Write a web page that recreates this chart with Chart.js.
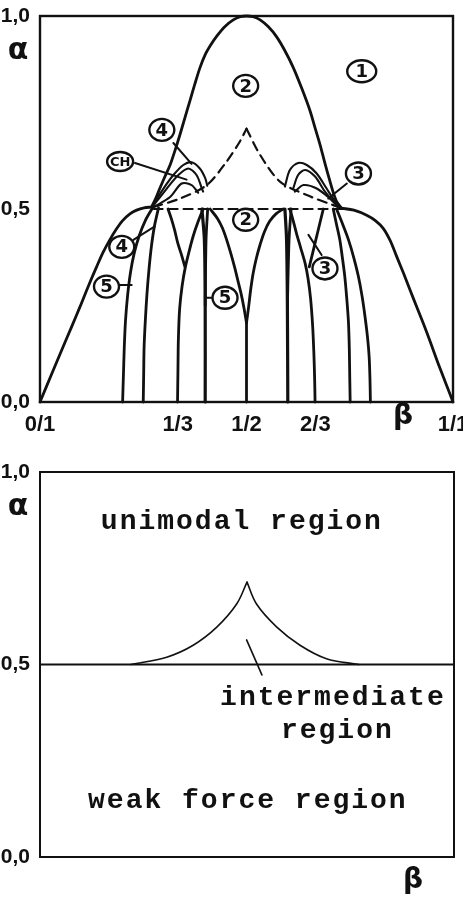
<!DOCTYPE html>
<html>
<head>
<meta charset="utf-8">
<script src="https://cdn.jsdelivr.net/npm/chart.js@4.4.1/dist/chart.umd.min.js"></script>
<style>
  html, body { margin: 0; padding: 0; background: #fff; }
  canvas { display: block; }
</style>
</head>
<body>
<canvas id="diagrama" width="463" height="450"></canvas>
<canvas id="regioes" width="463" height="451"></canvas>
<script>
// --- eixos ---
const betaTicks = [0, 1/3, 1/2, 2/3, 1];
const betaTickLabels = ['0/1', '1/3', '1/2', '2/3', '1/1'];
const alphaTicks = [0, 0.5, 1];
const alphaTickLabels = ['0,0', '0,5', '1,0'];

// --- fronteira externa (pe esquerdo, sino, pe direito) --- pares [beta, alpha]
const leftFoot = [[0,0],[0.028,0.072],[0.056,0.143],[0.077,0.196],[0.097,0.247],[0.117,0.3],[0.137,0.35],[0.153,0.388],
                  [0.169,0.42],[0.185,0.448],[0.2,0.47],[0.217,0.487],[0.234,0.497],[0.252,0.503],[0.27,0.505]];
const bell = [[0.27,0.505],[0.28,0.527],[0.29,0.553],[0.302,0.583],[0.315,0.614],[0.327,0.652],[0.339,0.693],[0.351,0.737],
              [0.363,0.78],[0.375,0.824],[0.387,0.865],[0.4,0.9],[0.414,0.926],[0.428,0.948],[0.448,0.973],[0.468,0.99],
              [0.485,0.998],[0.5,1],[0.516,0.998],[0.533,0.99],[0.553,0.972],[0.573,0.946],[0.593,0.91],[0.613,0.867],
              [0.634,0.812],[0.654,0.754],[0.666,0.71],[0.678,0.667],[0.69,0.618],[0.702,0.572],[0.71,0.543],[0.718,0.52],[0.73,0.502]];
const rightFoot = [[0.73,0.502],[0.76,0.497],[0.791,0.484],[0.812,0.47],[0.831,0.45],[0.848,0.418],[0.864,0.376],[0.88,0.334],
                   [0.896,0.29],[0.912,0.247],[0.928,0.204],[0.946,0.153],[0.964,0.1],[0.982,0.05],[1,0]];

// --- linguas racionais ---
const tongue15 = [[0.2,0],[0.202,0.07],[0.204,0.14],[0.207,0.21],[0.212,0.275],[0.219,0.335],[0.228,0.385],[0.24,0.43],[0.255,0.47],[0.272,0.502]];
const tongue14 = [[0.25,0],[0.251,0.07],[0.252,0.14],[0.255,0.21],[0.259,0.28],[0.264,0.345],[0.27,0.405],[0.277,0.455],[0.287,0.503]];
const tongue13 = [[0.333,0],[0.334,0.08],[0.335,0.16],[0.338,0.24],[0.344,0.3],[0.352,0.35],[0.361,0.39],[0.371,0.43],[0.382,0.465],[0.395,0.5]];
const tongue13Arc = [[0.31,0.5],[0.318,0.475],[0.326,0.445],[0.334,0.41],[0.343,0.38],[0.351,0.35]];
const tongue25a = [[0.4,0],[0.4,0.25],[0.398,0.42],[0.392,0.5]];
const tongue25b = [[0.4,0.25],[0.402,0.42],[0.406,0.5]];
const tongue12Stem = [[0.5,0],[0.5,0.205]];
const tongue12Left = [[0.412,0.5],[0.43,0.475],[0.442,0.45],[0.452,0.42],[0.462,0.385],[0.471,0.35],[0.479,0.315],[0.487,0.28],[0.494,0.243],[0.5,0.205]];
const tongue12Right = [[0.5,0.205],[0.505,0.245],[0.51,0.29],[0.516,0.333],[0.524,0.373],[0.533,0.408],[0.543,0.44],[0.556,0.468],[0.572,0.488],[0.589,0.5]];
const tongue35a = [[0.6,0],[0.599,0.25],[0.597,0.42],[0.593,0.5]];
const tongue35b = [[0.599,0.25],[0.603,0.42],[0.608,0.5]];
const tongue23 = [[0.605,0.5],[0.613,0.47],[0.621,0.437],[0.631,0.4],[0.642,0.359],[0.649,0.32],[0.655,0.27],[0.66,0.2],[0.663,0.13],[0.665,0.06],[0.666,0]];
const tongue23Arc = [[0.686,0.5],[0.678,0.465],[0.669,0.425],[0.66,0.385],[0.652,0.35]];
const tongue34 = [[0.71,0.5],[0.718,0.46],[0.726,0.42],[0.732,0.375],[0.738,0.325],[0.743,0.265],[0.747,0.204],[0.749,0.135],[0.75,0.065],[0.751,0]];
const tongue45 = [[0.718,0.5],[0.733,0.46],[0.747,0.42],[0.76,0.373],[0.771,0.325],[0.78,0.273],[0.787,0.221],[0.793,0.168],[0.797,0.117],[0.799,0.058],[0.8,0]];

// --- capuzes acima da linha tracejada ---
const capOuterL = [[0.27,0.505],[0.299,0.553],[0.323,0.588],[0.347,0.614],[0.367,0.621],[0.387,0.605],[0.4,0.58],[0.405,0.56]];
const capMidL = [[0.272,0.505],[0.307,0.553],[0.335,0.588],[0.359,0.605],[0.379,0.588],[0.392,0.553],[0.395,0.545]];
const capInnerL = [[0.275,0.505],[0.315,0.531],[0.343,0.566],[0.367,0.562],[0.383,0.542]];
const capOuterR = [[0.593,0.558],[0.605,0.601],[0.625,0.619],[0.646,0.614],[0.67,0.592],[0.694,0.553],[0.718,0.514],[0.734,0.5]];
const capMidR = [[0.613,0.553],[0.625,0.588],[0.642,0.601],[0.666,0.584],[0.69,0.545],[0.718,0.51],[0.73,0.5]];
const capInnerR = [[0.617,0.545],[0.638,0.562],[0.67,0.553],[0.702,0.527],[0.726,0.503]];

// --- tracejado ---
const dashLeft = [[0.275,0.505],[0.339,0.527],[0.404,0.562],[0.452,0.623],[0.484,0.675],[0.5,0.708]];
const dashRight = [[0.5,0.708],[0.533,0.64],[0.581,0.571],[0.646,0.536],[0.71,0.51],[0.735,0.5]];
const dashFlat = [[0.275,0.5],[0.735,0.5]];

// --- setas dos rotulos ---
const leaders = [
  [[0.323,0.671],[0.367,0.617]],
  [[0.23,0.619],[0.355,0.576]],
  [[0.743,0.566],[0.698,0.527]],
  [[0.226,0.42],[0.278,0.455]],
  [[0.682,0.381],[0.65,0.433]],
  [[0.19,0.303],[0.222,0.303]],
  [[0.416,0.27],[0.4,0.27]]
];

// --- rotulos circulados ---
const markText = ['1', '2', '4', 'CH', '3', '2', '4', '3', '5', '5'];
const markBeta = [0.779, 0.498, 0.295, 0.194, 0.771, 0.498, 0.198, 0.69, 0.161, 0.448];
const markAlpha = [0.857, 0.819, 0.705, 0.623, 0.592, 0.472, 0.402, 0.346, 0.299, 0.27];

// --- grafico de regioes ---
const splitLine = [[0,0.5],[1,0.5]];
const cuspLeft = [[0.22,0.5],[0.306,0.519],[0.37,0.55],[0.427,0.597],[0.475,0.657],[0.5,0.714]];
const cuspRight = [[0.5,0.714],[0.523,0.657],[0.572,0.597],[0.628,0.55],[0.692,0.515],[0.77,0.5]];
const pointerLine = [[0.499,0.564],[0.536,0.473]];
const regionText = ['unimodal region', 'intermediate', 'region', 'weak force region'];
const regionBeta = [0.147, 0.435, 0.582, 0.116];
const regionAlpha = [0.852, 0.395, 0.309, 0.127];

const INK = '#111';
const TICK_FONT = "'Liberation Sans', Arimo, sans-serif";

function curva(pts, extra) {
  return Object.assign({
    data: pts.map(p => ({ x: p[0], y: p[1] })),
    borderColor: INK,
    borderWidth: 2.8,
    pointRadius: 0,
    tension: 0.3,
    fill: false,
    clip: false,
    borderCapStyle: 'round',
    borderJoinStyle: 'round'
  }, extra || {});
}

function escalas(comRotulosBeta, alturaX) {
  return {
    x: {
      type: 'linear', min: 0, max: 1,
      grid: { display: false }, border: { display: false },
      afterBuildTicks: ax => { ax.ticks = betaTicks.map(v => ({ value: v })); },
      afterFit: ax => { ax.height = alturaX; ax.paddingLeft = 0; ax.paddingRight = 0; },
      ticks: {
        display: comRotulosBeta, autoSkip: false, maxRotation: 0, minRotation: 0, padding: 2,
        color: INK, font: { family: TICK_FONT, size: 22, weight: 'bold' },
        callback: (v, i) => betaTickLabels[i]
      }
    },
    y: {
      type: 'linear', min: 0, max: 1,
      grid: { display: false }, border: { display: false },
      afterBuildTicks: ax => { ax.ticks = alphaTicks.map(v => ({ value: v })); },
      afterFit: ax => { ax.width = 40; ax.paddingTop = 0; ax.paddingBottom = 0; },
      ticks: {
        autoSkip: false, padding: 2,
        color: INK, font: { family: TICK_FONT, size: 21, weight: 'bold' },
        callback: (v, i) => alphaTickLabels[i]
      }
    }
  };
}

// moldura + letras dos eixos
function moldura(espessura, betaDx, betaDy) {
  return {
    id: 'moldura',
    afterDraw(chart) {
      const { ctx, chartArea: a } = chart;
      ctx.save();
      ctx.strokeStyle = INK;
      ctx.lineWidth = espessura;
      ctx.strokeRect(a.left, a.top, a.right - a.left, a.bottom - a.top);
      ctx.fillStyle = INK;
      ctx.textAlign = 'center';
      ctx.textBaseline = 'middle';
      ctx.font = "bold 30px 'DejaVu Sans', sans-serif";
      ctx.fillText('α', a.left - 22, a.top + 35);
      ctx.font = "bold 28px 'DejaVu Sans', sans-serif";
      ctx.fillText('β', a.right + betaDx, a.bottom + betaDy);
      ctx.restore();
    }
  };
}

const rotulosCirculados = {
  id: 'rotulosCirculados',
  afterDatasetsDraw(chart) {
    const { ctx, scales } = chart;
    ctx.save();
    ctx.textAlign = 'center';
    ctx.textBaseline = 'middle';
    markText.forEach((t, i) => {
      const px = scales.x.getPixelForValue(markBeta[i]);
      const py = scales.y.getPixelForValue(markAlpha[i]);
      const largo = t.length > 1;
      const rx = t === '1' ? 14.5 : (largo ? 13 : 12.5);
      const ry = largo ? 9.5 : 11;
      ctx.beginPath();
      ctx.ellipse(px, py, rx, ry, 0, 0, Math.PI * 2);
      ctx.fillStyle = '#fff';
      ctx.fill();
      ctx.lineWidth = 2.4;
      ctx.strokeStyle = INK;
      ctx.stroke();
      ctx.fillStyle = INK;
      ctx.font = largo ? "bold 13px 'DejaVu Sans', sans-serif" : "bold 18px 'DejaVu Sans', sans-serif";
      ctx.fillText(t, px, py + 1);
    });
    ctx.restore();
  }
};

const textosRegiao = {
  id: 'textosRegiao',
  afterDatasetsDraw(chart) {
    const { ctx, scales } = chart;
    ctx.save();
    ctx.fillStyle = INK;
    ctx.textAlign = 'left';
    ctx.textBaseline = 'alphabetic';
    ctx.font = "bold 28px 'Liberation Mono', 'Courier New', monospace";
    if ('letterSpacing' in ctx) ctx.letterSpacing = '2px';
    regionText.forEach((t, i) => {
      ctx.fillText(t, scales.x.getPixelForValue(regionBeta[i]), scales.y.getPixelForValue(regionAlpha[i]));
    });
    ctx.restore();
  }
};

const tracejado = { borderDash: [9, 6], borderWidth: 2.2 };
const fino = { borderWidth: 2.1 };

const datasetsDiagrama = [
  curva(leftFoot), curva(bell), curva(rightFoot),
  curva(tongue15), curva(tongue14), curva(tongue13), curva(tongue13Arc),
  curva(tongue25a, { borderWidth: 3.2 }), curva(tongue25b),
  curva(tongue12Stem), curva(tongue12Left), curva(tongue12Right),
  curva(tongue35a, { borderWidth: 3.2 }), curva(tongue35b),
  curva(tongue23), curva(tongue23Arc), curva(tongue34), curva(tongue45),
  curva(capOuterL, fino), curva(capMidL, fino), curva(capInnerL, fino),
  curva(capOuterR, fino), curva(capMidR, fino), curva(capInnerR, fino),
  curva(dashLeft, tracejado), curva(dashRight, tracejado), curva(dashFlat, Object.assign({ tension: 0 }, tracejado)),
  ...leaders.map(l => curva(l, { borderWidth: 2, tension: 0 }))
];

new Chart(document.getElementById('diagrama'), {
  type: 'line',
  data: { datasets: datasetsDiagrama },
  options: {
    responsive: false,
    animation: false,
    events: [],
    layout: { padding: { top: 16, right: 10, bottom: 0, left: 0 } },
    plugins: { legend: { display: false }, tooltip: { enabled: false } },
    scales: escalas(true, 48)
  },
  plugins: [moldura(2.4, -50, 15), rotulosCirculados]
});

const finoReg = { borderWidth: 1.6, tension: 0.35 };

new Chart(document.getElementById('regioes'), {
  type: 'line',
  data: {
    datasets: [
      curva(splitLine, { borderWidth: 1.8, tension: 0 }),
      curva(cuspLeft, finoReg),
      curva(cuspRight, finoReg),
      curva(pointerLine, { borderWidth: 1.6, tension: 0 })
    ]
  },
  options: {
    responsive: false,
    animation: false,
    events: [],
    layout: { padding: { top: 22, right: 9, bottom: 0, left: 0 } },
    plugins: { legend: { display: false }, tooltip: { enabled: false } },
    scales: escalas(false, 44)
  },
  plugins: [moldura(2, -41, 24), textosRegiao]
});
</script>
</body>
</html>
